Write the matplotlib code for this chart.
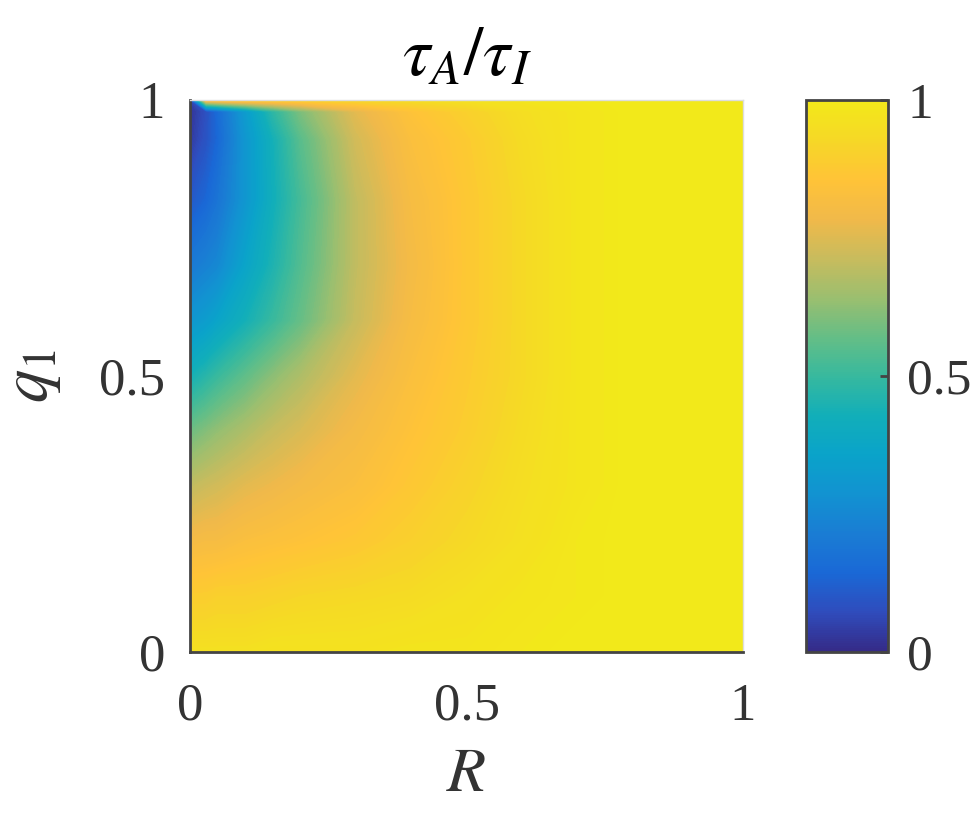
import matplotlib
matplotlib.use("Agg")
import matplotlib.pyplot as plt
import numpy as np
from matplotlib.colors import LinearSegmentedColormap

plt.rcParams['font.family'] = ['Liberation Serif', 'DejaVu Serif']
plt.rcParams['mathtext.fontset'] = 'stix'

# grid nodes (non-uniform, denser near the top-left corner)
R_nodes = [0, 0.03, 0.05, 0.1, 0.15, 0.2, 0.3, 0.4, 0.5, 0.6, 0.7, 0.8, 1.0]
q1_nodes = [0, 0.1, 0.2, 0.3, 0.4, 0.5, 0.6, 0.7, 0.82, 0.93, 0.98, 1.0]

# tau_A / tau_I, one row per q1 node (bottom to top)
ratio_q000 = [0.96, 0.96, 0.96, 0.96, 0.97, 0.97, 0.97, 0.98, 0.98, 0.99, 1.00, 1.00, 1.00]
ratio_q010 = [0.89, 0.89, 0.90, 0.90, 0.91, 0.92, 0.93, 0.94, 0.96, 0.98, 0.99, 1.00, 1.00]
ratio_q020 = [0.80, 0.81, 0.81, 0.83, 0.84, 0.85, 0.87, 0.90, 0.93, 0.96, 0.99, 1.00, 1.00]
ratio_q030 = [0.70, 0.72, 0.73, 0.76, 0.78, 0.80, 0.83, 0.87, 0.91, 0.95, 0.98, 1.00, 1.00]
ratio_q040 = [0.58, 0.61, 0.63, 0.67, 0.71, 0.74, 0.80, 0.85, 0.89, 0.94, 0.98, 1.00, 1.00]
ratio_q050 = [0.43, 0.47, 0.50, 0.56, 0.62, 0.67, 0.76, 0.83, 0.88, 0.93, 0.98, 1.00, 1.00]
ratio_q060 = [0.30, 0.33, 0.36, 0.43, 0.50, 0.57, 0.71, 0.81, 0.87, 0.93, 0.98, 1.00, 1.00]
ratio_q070 = [0.20, 0.23, 0.25, 0.36, 0.45, 0.54, 0.70, 0.80, 0.87, 0.93, 0.98, 1.00, 1.00]
ratio_q082 = [0.10, 0.14, 0.18, 0.30, 0.42, 0.52, 0.70, 0.81, 0.87, 0.93, 0.98, 1.00, 1.00]
ratio_q093 = [0.03, 0.09, 0.14, 0.30, 0.43, 0.55, 0.73, 0.83, 0.88, 0.94, 0.98, 1.00, 1.00]
ratio_q098 = [0.02, 0.08, 0.15, 0.32, 0.48, 0.60, 0.76, 0.85, 0.90, 0.95, 0.98, 1.00, 1.00]
ratio_q100 = [0.02, 0.84, 0.86, 0.88, 0.89, 0.90, 0.92, 0.94, 0.96, 0.98, 0.99, 1.00, 1.00]

ratio = np.array([ratio_q000, ratio_q010, ratio_q020, ratio_q030, ratio_q040,
                  ratio_q050, ratio_q060, ratio_q070, ratio_q082, ratio_q093,
                  ratio_q098, ratio_q100])

# MATLAB parula, sampled (toned slightly to match the print)
parula_pts = [
    (0.2081, 0.1663, 0.5292), (0.1850, 0.3000, 0.7400), (0.1000, 0.4100, 0.8400),
    (0.1000, 0.4900, 0.8300), (0.0700, 0.5750, 0.8200), (0.0400, 0.6400, 0.7900),
    (0.0700, 0.6838, 0.7254), (0.2178, 0.7250, 0.6193), (0.3953, 0.7459, 0.5244),
    (0.6099, 0.7473, 0.4337), (0.7858, 0.7356, 0.3633), (0.9449, 0.7261, 0.2886),
    (0.9990, 0.7653, 0.2164), (0.9650, 0.8450, 0.1500), (0.9500, 0.9150, 0.1000),
]
parula = LinearSegmentedColormap.from_list('parula', parula_pts, N=256)

fig = plt.figure(figsize=(9.8, 8.15), dpi=100)
ax = fig.add_axes([190/980, 1-652/815, 553/980, 552/815])
cax = fig.add_axes([806/980, 1-652/815, 82/980, 552/815])

cs = ax.contourf(R_nodes, q1_nodes, ratio, levels=np.linspace(0, 1, 201),
                 cmap=parula, vmin=0, vmax=1)
cs.set_edgecolor('face')
cs.set_linewidth(0.6)

ax.set_xlim(0, 1)
ax.set_ylim(0, 1)
ax.set_xticks([0, 0.5, 1])
ax.set_yticks([0, 0.5, 1])
ax.set_xticklabels(['0', '0.5', '1'])
ax.set_yticklabels(['0', '0.5', '1'])
ax.tick_params(length=0, labelsize=38, labelcolor='#333333', pad=18)
ax.tick_params(axis='x', pad=22)
for side in ['left', 'bottom']:
    ax.spines[side].set_color('#444444')
    ax.spines[side].set_linewidth(2)
for side in ['top', 'right']:
    ax.spines[side].set_color('#dddddd')
    ax.spines[side].set_linewidth(1)

ax.set_title(r'$\tau_A/\tau_I$', fontsize=50, pad=18)
ax.set_xlabel(r'$R$', fontsize=46, color='#333333', labelpad=12)
ax.set_ylabel(r'$q_1$', fontsize=48, color='#333333', labelpad=26)

cb = fig.colorbar(plt.cm.ScalarMappable(cmap=parula), cax=cax)
cb.set_ticks([0, 0.5, 1])
cb.set_ticklabels(['0', '0.5', '1'])
cax.tick_params(direction='in', length=6, width=2, color='#444444',
                labelsize=37, labelcolor='#333333', pad=14)
cb.outline.set_edgecolor('#444444')
cb.outline.set_linewidth(2)

fig.savefig('out.png', dpi=100)
